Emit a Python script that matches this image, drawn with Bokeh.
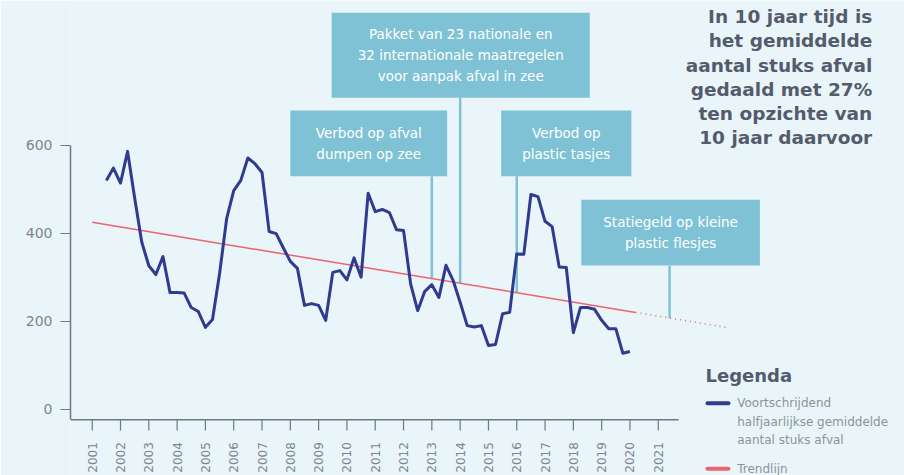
import math
import numpy as np
from bokeh.plotting import figure
from bokeh.models import Range1d, FixedTicker, Label
from bokeh.embed import file_html
from bokeh.resources import INLINE
from bokeh.core.properties import value

# ---------------- data ----------------
quarters = [2001.5 + 0.25 * i for i in range(75)]
afval = [520, 548, 514, 586, 480, 380, 326, 306, 347, 265,
         265, 264, 231, 222, 186, 204, 308, 433, 497, 520,
         571, 558, 538, 404, 399, 367, 336, 320, 236, 240,
         236, 202, 311, 315, 294, 344, 300, 491, 449, 454,
         447, 408, 406, 285, 224, 268, 283, 254, 327, 293,
         243, 190, 187, 190, 145, 147, 217, 220, 353, 352,
         488, 483, 427, 415, 323, 322, 174, 231, 231, 227,
         202, 183, 183, 127, 131]

trend_years = [2001, 2020.2]
trend_vals = [425, 220]
trend_ext_years = [2020.2, 2023.5]
trend_ext_vals = [220, 185]

year_ticks = list(range(2001, 2022))
year_labels = [str(y) for y in year_ticks]
value_ticks = [0, 200, 400, 600]

event_texts = ["Verbod op afval\ndumpen op zee",
               "Pakket van 23 nationale en\n32 internationale maatregelen\nvoor aanpak afval in zee",
               "Verbod op\nplastic tasjes",
               "Statiegeld op kleine\nplastic flesjes"]
event_years = [2013, 2014, 2016, 2021.4]

headline = ("In 10 jaar tijd is\nhet gemiddelde\naantal stuks afval\n"
            "gedaald met 27%\nten opzichte van\n10 jaar daarvoor")
legend_title = "Legenda"
legend_series = "Voortschrijdend\nhalfjaarlijkse gemiddelde\naantal stuks afval"
legend_trend = "Trendlijn"

# ---------------- style / layout ----------------
BG = "#eaf5f9"
TEAL = "#80c2d5"
NAVY = "#2e3b8e"
RED = "#e9646f"
AXIS = "#6c7883"
TICKTXT = "#7b8590"
HEAD = "#545b6c"
LEGTXT = "#8c939d"
FONT = "DejaVu Sans"

X_MIN, X_MAX = 2000.233, 2029.70
Y_MIN, Y_MAX = -150.7, 928.9
AXIS_Y = -24            # level of the horizontal axis line
AXIS_X_END = 2021.72
TICK_LEN = 24.4         # tick length in value units (~10px)
LABEL_TOP = -75

# annotation boxes (left, right, bottom, top) in chart units
boxes = [(2008.0, 2013.54, 529.5, 679),
         (2009.46, 2018.58, 707.7, 901),
         (2015.45, 2020.05, 529.5, 679),
         (2018.28, 2024.59, 326.6, 476)]

p = figure(width=904, height=475,
           x_range=Range1d(X_MIN, X_MAX), y_range=Range1d(Y_MIN, Y_MAX),
           output_backend="svg", toolbar_location=None,
           x_axis_location=None,
           min_border_left=70, min_border_right=0, min_border_top=0,
           min_border_bottom=0,
           background_fill_color=BG, border_fill_color=BG,
           outline_line_color=None)
p.grid.visible = False

# y axis (real axis)
ax = p.yaxis[0]
ax.axis_line_color = AXIS
ax.axis_line_width = 1.5
ax.major_tick_line_color = AXIS
ax.major_tick_line_width = 1.2
ax.major_tick_in = 0
ax.major_tick_out = 10
ax.minor_tick_line_color = None
ax.major_label_text_color = TICKTXT
ax.major_label_text_font = FONT
ax.major_label_text_font_size = "14px"
ax.major_label_standoff = 8
ax.bounds = (AXIS_Y, 600)
ax.ticker = FixedTicker(ticks=value_ticks)

# horizontal time axis (drawn on the chart so the legend below it stays visible)
p.segment(x0=[X_MIN], y0=[AXIS_Y], x1=[AXIS_X_END], y1=[AXIS_Y],
          line_color=AXIS, line_width=1.5)
p.segment(x0=year_ticks, y0=[AXIS_Y] * len(year_ticks),
          x1=year_ticks, y1=[AXIS_Y - TICK_LEN] * len(year_ticks),
          line_color=AXIS, line_width=1.2)
p.text(x=year_ticks, y=[LABEL_TOP] * len(year_ticks), text=year_labels,
       angle=math.pi / 2, text_align="right", text_baseline="middle",
       text_color=TICKTXT, text_font=value(FONT), text_font_size="12px")

# event boxes and connector lines
p.quad(left=[b[0] for b in boxes], right=[b[1] for b in boxes],
       bottom=[b[2] for b in boxes], top=[b[3] for b in boxes],
       fill_color=TEAL, line_color=None)
line_bottoms = list(np.interp(event_years, trend_years + trend_ext_years[1:],
                              trend_vals + trend_ext_vals[1:]))
line_tops = [b[2] for b in boxes]
p.segment(x0=event_years, y0=line_bottoms, x1=event_years, y1=line_tops,
          line_color=TEAL, line_width=2.5)

for txt, b in zip(event_texts, boxes):
    p.add_layout(Label(x=(b[0] + b[1]) / 2, y=(b[2] + b[3]) / 2, text=txt,
                       text_align="center", text_baseline="middle",
                       text_color="white", text_font=FONT,
                       text_font_size="13.5px", text_line_height=1.3))

# data
p.line(trend_years, trend_vals, line_color=RED, line_width=1.5)
p.line(trend_ext_years, trend_ext_vals, line_color=RED, line_width=1.5,
       line_dash="1 4")
p.line(quarters, afval, line_color=NAVY, line_width=3, line_join="round")

# headline
p.add_layout(Label(x=2028.56, y=754.5, text=headline, text_align="right",
                   text_baseline="middle", text_color=HEAD, text_font=FONT,
                   text_font_style="bold", text_font_size="18.5px",
                   text_line_height=1.15))

# legend
p.add_layout(Label(x=2022.67, y=76.6, text=legend_title, text_align="left",
                   text_baseline="middle", text_color=HEAD, text_font=FONT,
                   text_font_style="bold", text_font_size="18px"))
p.segment(x0=[2022.74, 2022.74], y0=[13.6, -135.5],
          x1=[2023.48, 2023.48], y1=[13.6, -135.5],
          line_color=[NAVY, RED], line_width=4, line_cap="round")
p.add_layout(Label(x=2023.79, y=-28.6, text=legend_series, text_align="left",
                   text_baseline="middle", text_color=LEGTXT, text_font=FONT,
                   text_font_size="12px", text_line_height=1.31))
p.add_layout(Label(x=2023.79, y=-135.5, text=legend_trend, text_align="left",
                   text_baseline="middle", text_color=LEGTXT, text_font=FONT,
                   text_font_size="12px"))

open("out.html", "w").write(file_html(p, INLINE))
